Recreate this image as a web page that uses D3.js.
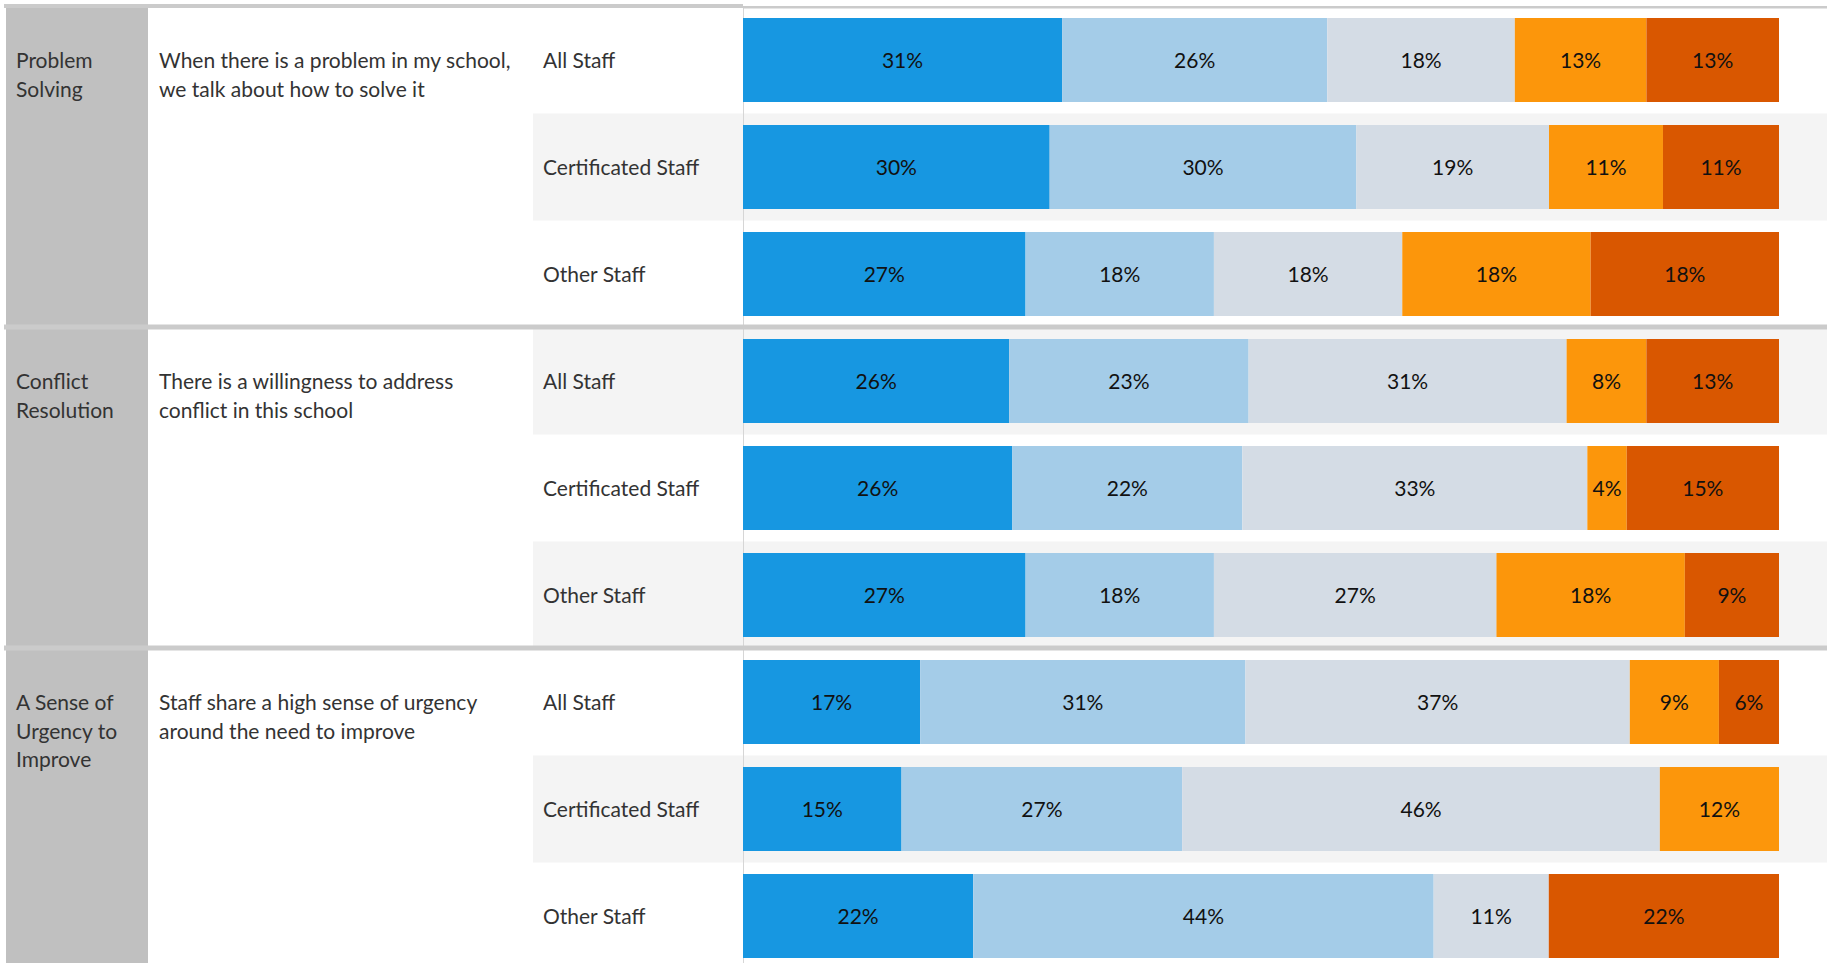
<!DOCTYPE html>
<html>
<head>
<meta charset="utf-8">
<script src="https://cdn.jsdelivr.net/npm/d3@7"></script>
<style>
  body { margin: 0; background: #fff; }
  text { font-family: Lato, "Open Sans", sans-serif; }
</style>
</head>
<body>
<svg id="chart"></svg>
<script>
const width = 1827, height = 963;

// données (en %)
const sections = ["Problem Solving", "Conflict Resolution", "A Sense of Urgency to Improve"];
const questions = [
  "When there is a problem in my school, we talk about how to solve it",
  "There is a willingness to address conflict in this school",
  "Staff share a high sense of urgency around the need to improve"
];
const staffGroups = ["All Staff", "Certificated Staff", "Other Staff"];
const responses = ["Strongly Agree", "Agree", "Neutral", "Disagree", "Strongly Disagree"];
const colors = ["#1797e1", "#a4cce8", "#d4dce5", "#fc960b", "#d95700"];

const problemSolving     = [[30.8, 25.6, 18.1, 12.7, 12.8], [29.6, 29.6, 18.6, 11.0, 11.2], [27.3, 18.2, 18.2, 18.2, 18.2]];
const conflictResolution = [[25.7, 23.1, 30.7, 7.7, 12.8], [26.0, 22.2, 33.3, 3.8, 14.7], [27.3, 18.2, 27.3, 18.2, 9.1]];
const senseOfUrgency     = [[17.1, 31.4, 37.1, 8.6, 5.8], [15.3, 27.1, 46.1, 11.5, 0], [22.2, 44.4, 11.1, 0, 22.2]];
const sectionValues = [problemSolving, conflictResolution, senseOfUrgency];

// table à plat : une ligne par (section, groupe)
const rows = [];
sections.forEach((s, si) => {
  staffGroups.forEach((g, gi) => {
    const r = { id: si + "-" + gi, section: si, group: g, index: si * 3 + gi };
    responses.forEach((k, ki) => r[k] = sectionValues[si][gi][ki]);
    rows.push(r);
  });
});

const svg = d3.select("#chart").attr("width", width).attr("height", height);

const top0 = 6.5, step = 107;
const y = d3.scaleBand()
  .domain(rows.map(d => d.id))
  .range([top0, top0 + rows.length * step])
  .paddingInner(0.215)
  .paddingOuter(0.1075);

const barLeft = 743, barRight = 1779;
const x = d3.scaleLinear().domain([0, 1]).range([barLeft, barRight]);
const color = d3.scaleOrdinal().domain(responses).range(colors);

// bandes grises alternées
svg.selectAll(".band")
  .data(rows.filter(d => d.index % 2 === 1))
  .enter().append("rect")
  .attr("class", "band")
  .attr("x", 533)
  .attr("y", d => top0 + d.index * step)
  .attr("width", width - 533)
  .attr("height", step)
  .attr("fill", "#f4f4f4");

// colonne grise des sections
svg.append("rect")
  .attr("x", 6).attr("y", 6)
  .attr("width", 142).attr("height", height - 6)
  .attr("fill", "#c0c0c0");

// ligne verticale
svg.append("line")
  .attr("x1", barLeft + 0.5).attr("x2", barLeft + 0.5)
  .attr("y1", 6).attr("y2", height)
  .attr("stroke", "#d6d6d6").attr("stroke-width", 1);

// séparateurs
svg.append("rect").attr("x", 4).attr("y", 4).attr("width", barLeft - 4).attr("height", 4).attr("fill", "#cbcbcb");
svg.append("rect").attr("x", barLeft).attr("y", 6).attr("width", width - barLeft).attr("height", 2.5).attr("fill", "#cbcbcb");
[1, 2].forEach(i => {
  svg.append("rect")
    .attr("x", 4).attr("y", top0 + i * 3 * step - 3)
    .attr("width", width - 4).attr("height", 5)
    .attr("fill", "#cbcbcb");
});

// barres empilées
const stacked = d3.stack().keys(responses).offset(d3.stackOffsetExpand)(rows);

const layer = svg.selectAll(".layer")
  .data(stacked)
  .enter().append("g")
  .attr("class", "layer")
  .attr("fill", d => color(d.key));

layer.selectAll("rect")
  .data(d => d.filter(p => p[1] - p[0] > 0))
  .enter().append("rect")
  .attr("x", d => x(d[0]))
  .attr("y", d => y(d.data.id))
  .attr("width", d => x(d[1]) - x(d[0]))
  .attr("height", y.bandwidth());

layer.selectAll("text")
  .data(d => d.filter(p => p[1] - p[0] > 0))
  .enter().append("text")
  .attr("x", d => (x(d[0]) + x(d[1])) / 2)
  .attr("y", d => y(d.data.id) + y.bandwidth() / 2 + 1)
  .attr("dy", "0.35em")
  .attr("text-anchor", "middle")
  .attr("fill", "#111")
  .attr("font-size", 21)
  .text(d => Math.round((d[1] - d[0]) * 100) + "%");

// libellés des groupes
svg.selectAll(".group-label")
  .data(rows)
  .enter().append("text")
  .attr("class", "group-label")
  .attr("x", 543)
  .attr("y", d => y(d.id) + y.bandwidth() / 2 + 1)
  .attr("dy", "0.35em")
  .attr("fill", "#333")
  .attr("font-size", 21)
  .text(d => d.group);

// retour à la ligne selon une largeur max
function wrap(sel, maxWidth, lineHeight) {
  sel.each(function() {
    const t = d3.select(this);
    const words = t.text().split(" ");
    const x0 = t.attr("x");
    t.text(null);
    let line = [];
    let tspan = t.append("tspan").attr("x", x0).attr("dy", "0.35em");
    words.forEach(w => {
      line.push(w);
      tspan.text(line.join(" "));
      if (tspan.node().getComputedTextLength() > maxWidth && line.length > 1) {
        line.pop();
        tspan.text(line.join(" "));
        line = [w];
        tspan = t.append("tspan").attr("x", x0).attr("dy", lineHeight).text(w);
      }
    });
  });
}

const firstRowY = si => y(rows[si * 3].id) + y.bandwidth() / 2 + 1;

svg.selectAll(".section-label")
  .data(sections)
  .enter().append("text")
  .attr("class", "section-label")
  .attr("x", 16)
  .attr("y", (d, i) => firstRowY(i))
  .attr("fill", "#333")
  .attr("font-size", 21)
  .text(d => d)
  .call(wrap, 124, 28.5);

svg.selectAll(".question")
  .data(questions)
  .enter().append("text")
  .attr("class", "question")
  .attr("x", 159)
  .attr("y", (d, i) => firstRowY(i))
  .attr("fill", "#333")
  .attr("font-size", 21)
  .text(d => d)
  .call(wrap, 358, 28.5);
</script>
</body>
</html>
